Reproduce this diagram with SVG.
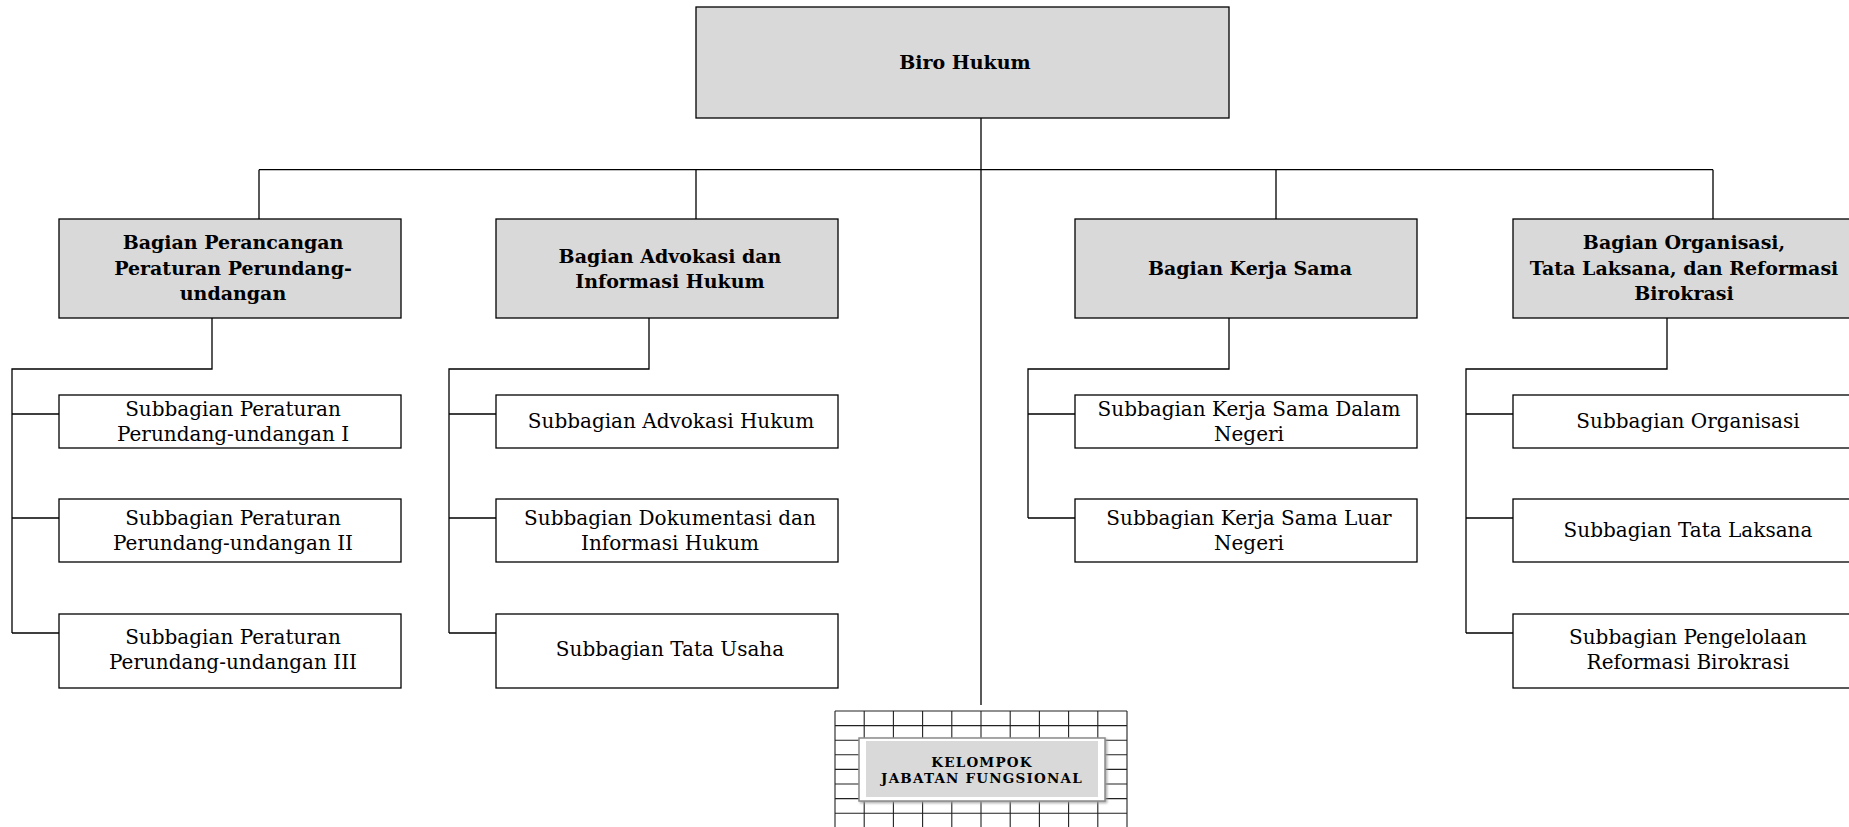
<svg xmlns="http://www.w3.org/2000/svg" width="1849" height="827" viewBox="0 0 1849 827">
<style>
.box{fill:#fff;stroke:#000;stroke-width:1.3}
.head{fill:#d9d9d9;stroke:#000;stroke-width:1.3}
.t{font-family:"DejaVu Serif",serif;font-size:20px;text-anchor:middle;fill:#000}
.b{font-weight:bold;font-size:19px}
.k{font-family:"DejaVu Serif",serif;font-weight:bold;font-size:13.5px;letter-spacing:1.2px;text-anchor:middle;fill:#000}
#connectors path{fill:none;stroke:#000;stroke-width:1.3}
.grid{fill:none;stroke:#222;stroke-width:1.1}
</style>
<defs>
<filter id="sh" x="-5%" y="-10%" width="115%" height="130%">
<feDropShadow dx="1.5" dy="1.5" stdDeviation="1" flood-color="#999" flood-opacity="0.8"/>
</filter>
</defs>
<rect width="1849" height="827" fill="#fff"/>
<g id="connectors">
<path d="M981 118V705"/>
<path d="M259 169.7H1713M259 169.7V219M696 169.7V219M1276 169.7V219M1713 169.7V219"/>
<path d="M212 318V369H12V633M12 414H59M12 518H59M12 633H59"/>
<path d="M649 318V369H449V633M449 414H496M449 518H496M449 633H496"/>
<path d="M1229 318V369H1028V518M1028 414H1075M1028 518H1075"/>
<path d="M1667 318V369H1466V633M1466 414H1513M1466 518H1513M1466 633H1513"/>
</g>
<g id="biro-hukum">
<rect class="head" x="696" y="7" width="533" height="111"/>
<text class="t b" x="965" y="69">Biro Hukum</text>
</g>
<g id="bagian-perancangan">
<rect class="head" x="59" y="219" width="342" height="99"/>
<text class="t b" x="233" y="249">Bagian Perancangan</text>
<text class="t b" x="233" y="274.5">Peraturan Perundang-</text>
<text class="t b" x="233" y="300">undangan</text>
</g>
<g id="bagian-advokasi">
<rect class="head" x="496" y="219" width="342" height="99"/>
<text class="t b" x="670" y="263">Bagian Advokasi dan</text>
<text class="t b" x="670" y="288">Informasi Hukum</text>
</g>
<g id="bagian-kerja-sama">
<rect class="head" x="1075" y="219" width="342" height="99"/>
<text class="t b" x="1250" y="275">Bagian Kerja Sama</text>
</g>
<g id="bagian-organisasi">
<rect class="head" x="1513" y="219" width="342" height="99"/>
<text class="t b" x="1684" y="249">Bagian Organisasi,</text>
<text class="t b" x="1684" y="274.5">Tata Laksana, dan Reformasi</text>
<text class="t b" x="1684" y="300">Birokrasi</text>
</g>
<g id="sub-peraturan-1">
<rect class="box" x="59" y="395" width="342" height="53"/>
<text class="t" x="233" y="416">Subbagian Peraturan</text>
<text class="t" x="233" y="441">Perundang-undangan I</text>
</g>
<g id="sub-peraturan-2">
<rect class="box" x="59" y="499" width="342" height="63"/>
<text class="t" x="233" y="525">Subbagian Peraturan</text>
<text class="t" x="233" y="550">Perundang-undangan II</text>
</g>
<g id="sub-peraturan-3">
<rect class="box" x="59" y="614" width="342" height="74"/>
<text class="t" x="233" y="644">Subbagian Peraturan</text>
<text class="t" x="233" y="669">Perundang-undangan III</text>
</g>
<g id="sub-advokasi">
<rect class="box" x="496" y="395" width="342" height="53"/>
<text class="t" x="671" y="428">Subbagian Advokasi Hukum</text>
</g>
<g id="sub-dokumentasi">
<rect class="box" x="496" y="499" width="342" height="63"/>
<text class="t" x="670" y="525">Subbagian Dokumentasi dan</text>
<text class="t" x="670" y="550">Informasi Hukum</text>
</g>
<g id="sub-tata-usaha">
<rect class="box" x="496" y="614" width="342" height="74"/>
<text class="t" x="670" y="656">Subbagian Tata Usaha</text>
</g>
<g id="sub-kerja-sama-dn">
<rect class="box" x="1075" y="395" width="342" height="53"/>
<text class="t" x="1249" y="416">Subbagian Kerja Sama Dalam</text>
<text class="t" x="1249" y="441">Negeri</text>
</g>
<g id="sub-kerja-sama-ln">
<rect class="box" x="1075" y="499" width="342" height="63"/>
<text class="t" x="1249" y="525">Subbagian Kerja Sama Luar</text>
<text class="t" x="1249" y="550">Negeri</text>
</g>
<g id="sub-organisasi">
<rect class="box" x="1513" y="395" width="342" height="53"/>
<text class="t" x="1688" y="428">Subbagian Organisasi</text>
</g>
<g id="sub-tata-laksana">
<rect class="box" x="1513" y="499" width="342" height="63"/>
<text class="t" x="1688" y="537">Subbagian Tata Laksana</text>
</g>
<g id="sub-reformasi">
<rect class="box" x="1513" y="614" width="342" height="74"/>
<text class="t" x="1688" y="644">Subbagian Pengelolaan</text>
<text class="t" x="1688" y="669">Reformasi Birokrasi</text>
</g>
<g id="kelompok-jabatan-fungsional">
<path class="grid" d="M835 711V827M864.2 711V827M893.4 711V827M922.6 711V827M951.8 711V827M981 711V827M1010.2 711V827M1039.4 711V827M1068.6 711V827M1097.8 711V827M1127 711V827M835 711H1127M835 725.6H1127M835 740.2H1127M835 754.8H1127M835 769.4H1127M835 784H1127M835 798.6H1127M835 813.2H1127"/>
<rect x="859" y="738" width="246" height="63" fill="#fff" stroke="#8a8a8a" stroke-width="1.5" filter="url(#sh)"/>
<rect x="866" y="741" width="232" height="56" fill="#d9d9d9"/>
<text class="k" x="982" y="767">KELOMPOK</text>
<text class="k" x="982" y="782.5">JABATAN FUNGSIONAL</text>
</g>
</svg>
